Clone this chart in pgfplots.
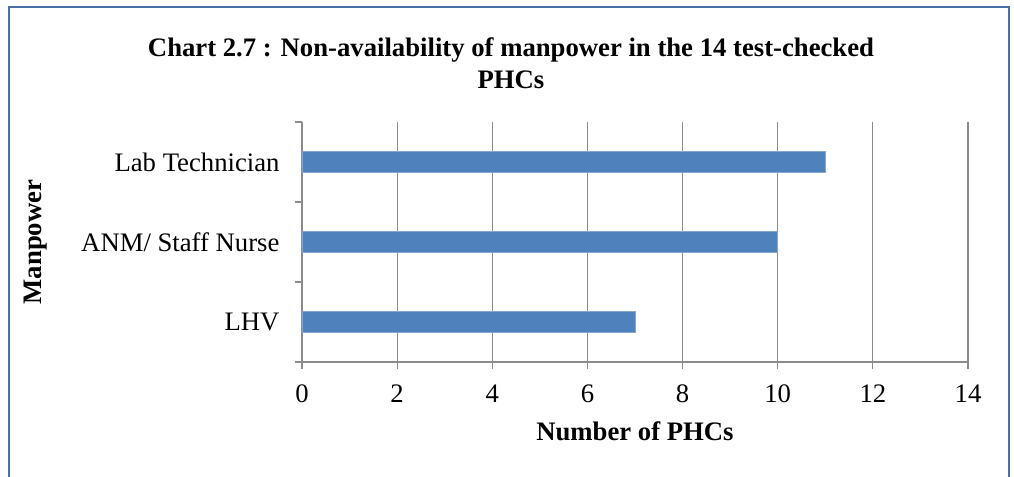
\documentclass[border=0pt]{standalone}
\usepackage{pgfplots}
\pgfplotsset{compat=1.18}
\usepackage{fontspec}
\setmainfont{Liberation Serif}
\definecolor{barblue}{HTML}{4F81BD}
\definecolor{framecol}{HTML}{4A6FA5}
\definecolor{gridgray}{HTML}{8C8C8C}
\begin{document}
\begin{tikzpicture}[x=1bp,y=1bp]
\useasboundingbox (0,0) rectangle (1014,477);
\draw[framecol,line width=2.2bp] (9,-2) -- (9,470) -- (1009,470) -- (1009,-2);
\node[align=center,font=\fontsize{26.7bp}{32bp}\selectfont\bfseries] at (511,414)
  {Chart 2.7 : Non-availability of manpower in the 14 test-checked\\PHCs};
\begin{axis}[
  at={(302bp,115bp)}, anchor=south west,
  scale only axis, width=666bp, height=240bp,
  xmin=0, xmax=14, ymin=0.5, ymax=3.5,
  xtick={0,2,...,14},
  ytick={0.5,1.5,2.5,3.5},
  yticklabels={},
  extra y ticks={1,2,3},
  extra y tick labels={LHV,ANM/ Staff Nurse,Lab Technician},
  extra y tick style={major tick length=0pt, grid=none},
  xmajorgrids, major grid style={gridgray,line width=1.2bp},
  axis x line*=bottom, axis y line*=left,
  axis line style={gridgray,line width=1.2bp},
  tick style={gridgray,line width=1.2bp},
  major tick length=7bp,
  tick align=outside,
  ticklabel style={font=\fontsize{26.7bp}{30bp}\selectfont},
  yticklabel style={xshift=-19bp},
  xticklabel style={yshift=-12bp},
  /pgf/number format/assume math mode=true,
  xbar, bar width=21bp,
  clip=false,
]
\addplot[fill=barblue,draw=barblue!70!white,line width=0.8bp] coordinates {(7,1) (10,2) (11,3)};
\end{axis}
\node[font=\fontsize{26.7bp}{30bp}\selectfont\bfseries] at (635,46) {Number of PHCs};
\node[rotate=90,font=\fontsize{26.7bp}{30bp}\selectfont\bfseries] at (36,235) {Manpower};
\end{tikzpicture}
\end{document}
